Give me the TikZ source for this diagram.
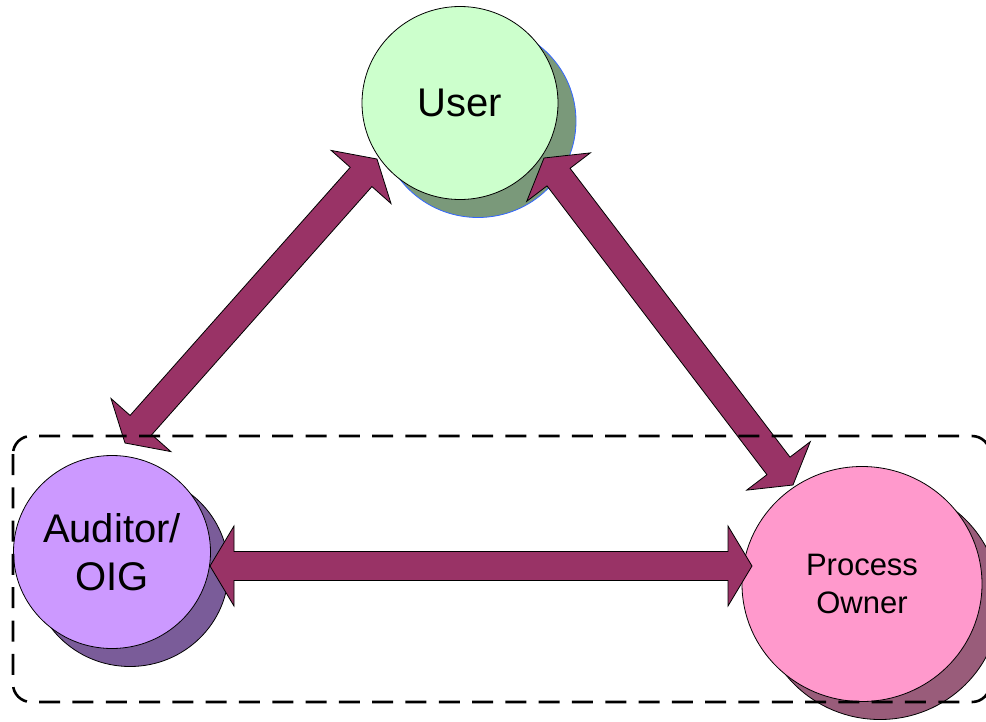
\documentclass[tikz,border=0pt]{standalone}
\usepackage{fontspec}
\setmainfont{Liberation Sans}
\usetikzlibrary{calc,shapes.geometric}
\definecolor{userfill}{RGB}{204,255,204}
\definecolor{usershadow}{RGB}{122,153,122}
\definecolor{usershadowline}{RGB}{51,102,255}
\definecolor{audfill}{RGB}{204,153,255}
\definecolor{audshadow}{RGB}{122,92,153}
\definecolor{pofill}{RGB}{255,153,204}
\definecolor{poshadow}{RGB}{153,92,122}
\definecolor{arrowfill}{RGB}{153,51,102}
\tikzset{
  bubble/.style={ellipse, draw=black, line width=0.8pt, inner sep=0pt, align=center},
  shadowbubble/.style={ellipse, line width=0.8pt, inner sep=0pt},
  blockarrow/.style={fill=arrowfill, draw=black, line width=0.8pt, line join=miter},
  groupbox/.style={draw=black, line width=2.6pt, dash pattern=on 21pt off 12.3pt, rounded corners=18pt}
}
\newcommand\dblarrow[2]{%
  \coordinate (da1) at ($(#1)!24pt!(#2)$);
  \coordinate (da2) at ($(#2)!24pt!(#1)$);
  \filldraw[blockarrow] (#1) -- ($(da1)!40pt!90:(#2)$) -- ($(da1)!14.5pt!90:(#2)$)
    -- ($(da2)!14.5pt!-90:(#1)$) -- ($(da2)!40pt!-90:(#1)$) -- (#2)
    -- ($(da2)!40pt!90:(#1)$) -- ($(da2)!14.5pt!90:(#1)$)
    -- ($(da1)!14.5pt!-90:(#2)$) -- ($(da1)!40pt!-90:(#2)$) -- cycle;}
\begin{document}
\begin{tikzpicture}
\useasboundingbox (0pt,0pt) rectangle (986pt,-721pt);
% shadows
\node[shadowbubble, fill=usershadow, draw=usershadowline, minimum width=196pt, minimum height=193pt] (usersh) at (478pt,-121pt) {};
\node[shadowbubble, fill=audshadow, draw=black, minimum width=197pt, minimum height=193pt] (audsh) at (130pt,-570pt) {};
\node[shadowbubble, fill=poshadow, draw=black, minimum width=240pt, minimum height=235pt] (posh) at (880pt,-602pt) {};
% fronts
\node[bubble, fill=userfill, minimum width=196pt, minimum height=193pt, font=\fontsize{40pt}{48pt}\selectfont] (user) at (460pt,-103pt) {User};
\node[bubble, fill=audfill, minimum width=197pt, minimum height=193pt, font=\fontsize{40pt}{48pt}\selectfont] (aud) at (112pt,-552pt) {Auditor/\\OIG};
\node[bubble, fill=pofill, minimum width=240pt, minimum height=235pt, font=\fontsize{31pt}{38pt}\selectfont] (po) at (862pt,-584pt) {Process\\Owner};
% arrow end points
\coordinate (ul) at ($(user.center)+(-83pt,-56pt)$);
\coordinate (ur) at ($(user.center)+(84pt,-55pt)$);
\coordinate (aT) at ($(aud.center)+(13pt,109pt)$);
\coordinate (aR) at ($(aud.center)+(98pt,-14pt)$);
\coordinate (pT) at ($(po.center)+(-69pt,99pt)$);
\coordinate (pL) at ($(po.center)+(-110pt,18pt)$);
\dblarrow{aT}{ul}
\dblarrow{pT}{ur}
\dblarrow{aR}{pL}
% group box
\draw[groupbox] (13pt,-436pt) rectangle (990pt,-702pt);
\end{tikzpicture}
\end{document}
